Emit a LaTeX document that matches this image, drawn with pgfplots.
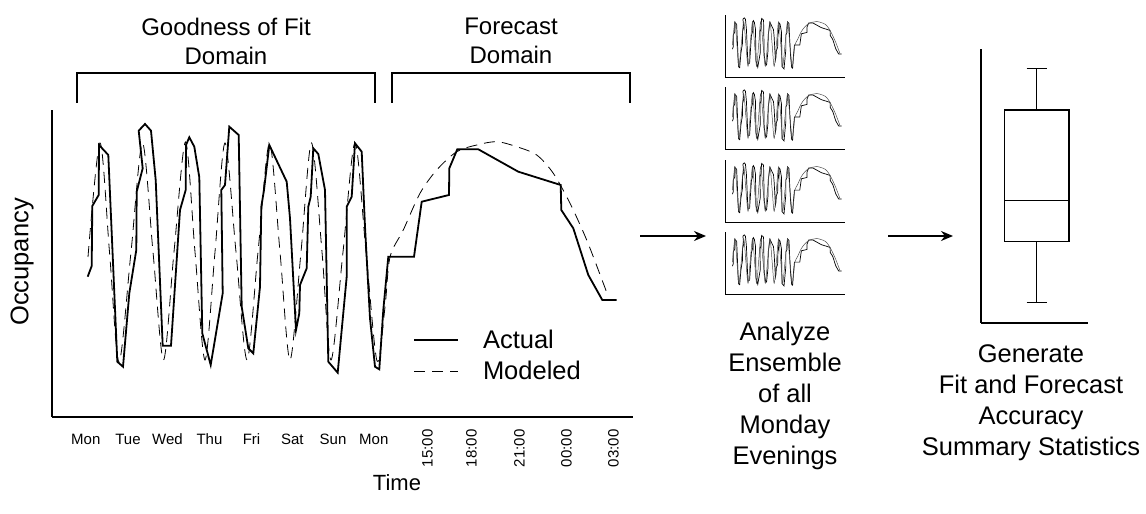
\documentclass[border=0pt]{standalone}
\usepackage{pgfplots}
\pgfplotsset{compat=1.18}
\usepackage{pgfplotstable}
\usepgfplotslibrary{statistics}
\usetikzlibrary{arrows.meta}
\usepackage{fontspec}
\setmainfont{Liberation Sans}

\pgfplotstableread{
x y
87.7 140.3
91.7 151
92.3 211
98.7 222
99 272
108.3 262
111 200.3
117.3 55.3
123 50.3
129.3 123.7
136.3 167
136.7 225.3
142.7 248.7
138.7 286.3
145 293
151 286.3
155.7 237
162.7 71.3
171 71.3
180 207
185.7 227
186 272
189.3 279.7
194.3 270.3
199.3 239.7
202.3 83.7
210.7 52
222.7 123.7
221.3 227
225 232
229.3 290.3
238.7 282
241.7 110.3
248.3 68.7
253.3 63.7
260 130.3
261.3 210.3
264 227
269.3 272
286.7 235.3
290 198.7
296 87
299.3 103.7
300 132
306.7 148.7
308.3 210.3
310.7 220.3
313.3 268.7
318.3 263
325 227
328.3 55.3
337.7 44.3
346.7 140.3
346.7 210.3
351.7 220.3
355 273.7
361.7 265.3
365 190.3
370 98.7
375 50.3
379.3 47.7
383.3 107
388.3 160.3
414 160.3
421.7 215.3
449 222
449.3 248.7
457.3 267.7
478.3 267.7
518.3 245.3
560.7 232
561.3 207
573.3 188.7
588.3 142
602.3 117
616.7 117
}\actual

\pgfplotstableread{
x y
88 160
100 274
109.5 165
119 55
131 165
142.5 274
153 165
163.5 57
174 165
185.5 275
195 165
205 57
215 165
225 274
236 165
247 57
258 165
269.5 274
280 165
290 57
301 165
311.5 274
322 165
331 57
343 165
355 274
366 165
377 56
385 110
390 160
403.3 187
420 223.7
436.7 247
456.7 265.3
476.7 272
496.7 275.3
516.7 270.3
536.7 262
553.3 243.7
570 213.7
586.7 177
603.3 133.7
608.3 120.3
}\modeled

\newcommand{\bigfont}{\fontsize{25.5}{31}\selectfont}
\newcommand{\titlefont}{\fontsize{24}{29}\selectfont}
\newcommand{\midfont}{\fontsize{22}{28}\selectfont}
\newcommand{\tickfont}{\fontsize{15}{18}\selectfont}

\begin{document}
\begin{tikzpicture}
% main axis
\begin{axis}[
  at={(52pt,97pt)}, anchor=south west,
  scale only axis, width=581pt, height=307pt,
  xmin=52, xmax=633, ymin=0, ymax=307,
  enlargelimits=false, clip=false,
  axis lines=left, axis line style={-, line width=1.3pt},
  ytick=\empty,
  xtick={85.8,128,167.5,209.5,251.5,292.4,333,373.8},
  xticklabels={Mon,Tue,Wed,Thu,Fri,Sat,Sun,Mon},
  major tick length=0pt,
  typeset ticklabels with strut,
  xticklabel style={font=\tickfont},
  xticklabel shift=11pt,
  extra x ticks={429,473,521,568,615},
  extra x tick labels={15:00,18:00,21:00,00:00,03:00},
  extra x tick style={xticklabel shift=9pt, xticklabel style={rotate=90, anchor=east}},
  xlabel={Time}, ylabel={Occupancy},
  xlabel style={at={(axis cs:397,-66)}, anchor=center, font=\midfont},
  ylabel style={at={(axis cs:22,155)}, anchor=center, font=\bigfont},
  legend style={at={(axis cs:413,89)}, anchor=north west, draw=none, fill=none,
    font=\bigfont, inner sep=0pt, row sep=7pt,
    nodes={inner sep=2pt},
    /tikz/every odd column/.append style={column sep=22pt}},
  legend cell align=left,
  legend image code/.code={\draw[#1] (0pt,0pt) -- (44pt,0pt);},
]
\addplot[black, line width=1.8pt] table[x=x,y=y] {\actual};
\addlegendentry{Actual}
\addplot[black, line width=0.8pt, dash pattern=on 11pt off 7pt, smooth] table[x=x,y=y] {\modeled};
\addlegendentry{Modeled}
\end{axis}

% thumbnails
\foreach \yb in {436,364,291,219}{
\begin{axis}[
  at={(725pt,\yb pt)}, anchor=south west,
  scale only axis, width=120pt, height=63pt,
  xmin=52, xmax=633, ymin=0, ymax=307,
  enlargelimits=false, clip=false,
  axis lines=left, axis line style={-, line width=1pt},
  ticks=none,
]
\addplot[black, line width=0.7pt] table[x=x,y=y] {\actual};
\addplot[black!70, line width=0.5pt, smooth] table[x=x,y=y] {\modeled};
\end{axis}
}

% box plot
\begin{axis}[
  at={(981pt,191pt)}, anchor=south west,
  scale only axis, width=107pt, height=274pt,
  xmin=0, xmax=107, ymin=0, ymax=274,
  enlargelimits=false, clip=false,
  axis lines=left, axis line style={-, line width=1.3pt},
  ticks=none,
]
\addplot[black, line width=1.3pt, boxplot/draw direction=y, boxplot prepared={draw position=55.7,
  lower whisker=20.7, lower quartile=81.3, median=122.3,
  upper quartile=213, upper whisker=254.3,
  box extend=64.7, whisker extend=20}] coordinates {};
\end{axis}

% brackets and titles
\draw[line width=1.4pt] (77pt,411pt) -- (77pt,441pt) -- (375pt,441pt) -- (375pt,411pt);
\draw[line width=1.4pt] (392pt,411pt) -- (392pt,441pt) -- (630pt,441pt) -- (630pt,411pt);
\node[font=\titlefont, align=center] at (226pt,473pt) {Goodness of Fit\\Domain};
\node[font=\titlefont, align=center] at (511pt,473pt) {Forecast\\Domain};

% arrows
\draw[line width=1.5pt, -{Stealth[length=12pt, width=10pt]}] (640pt,278pt) -- (706pt,278pt);
\draw[line width=1.5pt, -{Stealth[length=12pt, width=10pt]}] (888pt,278pt) -- (953pt,278pt);

% texts
\node[font=\bigfont, align=center] at (785pt,118.5pt) {Analyze\\Ensemble\\of all\\Monday\\Evenings};
\node[font=\bigfont, align=center] at (1031pt,111pt) {Generate\\Fit and Forecast\\Accuracy\\Summary Statistics};

\pgfresetboundingbox
\path (0pt,0pt) rectangle (1146pt,514pt);
\end{tikzpicture}
\end{document}
